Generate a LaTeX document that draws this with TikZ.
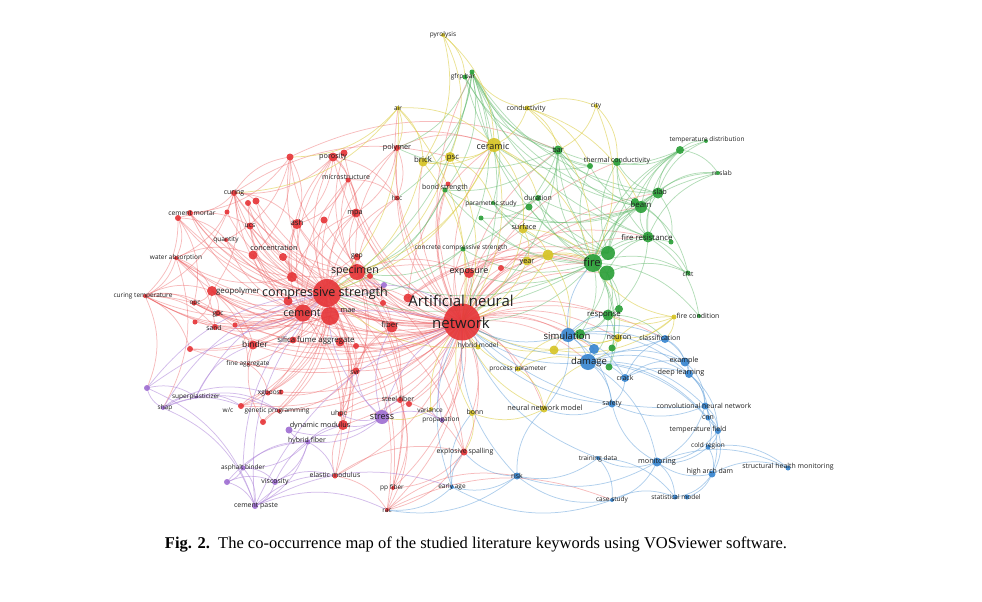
\documentclass[tikz,border=0pt]{standalone}
\usepackage{fontspec}
\usepackage{graphicx}
\newfontfamily\kwfont{Open Sans}
\newfontfamily\capfont{Liberation Serif}
\definecolor{cR}{RGB}{230,55,58}
\definecolor{cG}{RGB}{44,160,58}
\definecolor{cY}{RGB}{214,196,40}
\definecolor{cB}{RGB}{58,135,208}
\definecolor{cP}{RGB}{160,112,210}
\definecolor{txt}{RGB}{30,30,30}
\pgfdeclarelayer{bg}
\pgfdeclarelayer{fg}
\pgfsetlayers{bg,main,fg}
\tikzset{
  dot/.style={circle, inner sep=0pt, draw=none, fill opacity=0.92},
  lbl/.style={inner sep=0pt, text=txt, align=center},
  er/.style={draw=cR!80!white, line width=0.75pt, draw opacity=0.42},
  eg/.style={draw=cG!75!white, line width=0.75pt, draw opacity=0.48},
  ey/.style={draw=cY!90!white, line width=0.75pt, draw opacity=0.55},
  eb/.style={draw=cB!80!white, line width=0.75pt, draw opacity=0.5},
  ep/.style={draw=cP!85!white, line width=0.75pt, draw opacity=0.55}
}
% name, x, y, diameter, colour, fontsize, label x, label y, text
\newcommand{\kw}[9]{%
  \node[dot, fill=#5, minimum size=#4pt] (#1) at (#2,#3) {};
  \pgfmathsetmacro\fsz{#6*1.12}%
  \begin{pgfonlayer}{fg}\node[lbl, font=\kwfont\fontsize{\fsz}{\fsz}\selectfont] (#1-t) at (#7,#8) {#9};\end{pgfonlayer}}
\newcommand{\dt}[5]{\node[dot, fill=#5, minimum size=#4pt] (#1) at (#2,#3) {};}
\newcommand{\edg}[3]{\begin{pgfonlayer}{bg}\foreach \nn in {#3} \draw[#1] (#2.center) to[bend left=24] (\nn.center);\end{pgfonlayer}}
\begin{document}
\begin{tikzpicture}[x=1pt,y=-1pt]
\useasboundingbox (0,0) rectangle (982,602);
% ---------- red cluster ----------
\node[dot, fill=cR, minimum size=37pt] (ann) at (462,322) {};
\begin{pgfonlayer}{fg}\node[lbl, font=\kwfont\fontsize{15}{22}\selectfont] (ann-t) at (461,312) {Artificial neural\\network};\end{pgfonlayer}
\kw{cs}{327}{293}{28}{cR}{11.2}{325}{293}{compressive strength}
\kw{cement}{303}{313}{17}{cR}{9.5}{302}{313}{cement}
\kw{mae}{330}{316}{18}{cR}{6.5}{348}{311}{mae}
\kw{specimen}{357}{272}{16}{cR}{9.5}{355}{271}{specimen}
\dt{r370}{370}{276}{6}{cR}
\kw{gep}{357}{257}{7}{cR}{6}{357}{256}{gep}
\kw{mpa}{356}{213}{9}{cR}{6.5}{355}{213}{mpa}
\kw{ash}{297}{224}{10}{cR}{7}{297}{223}{ash}
\dt{r324}{324}{220}{7}{cR}
\kw{conc}{253}{255}{9}{cR}{6.5}{274}{248}{concentration}
\dt{conc2}{283}{257}{8}{cR}
\kw{quantity}{226}{240}{4}{cR}{5.8}{226}{240}{quantity}
\kw{ucs}{250}{226}{7}{cR}{6}{250}{226}{ucs}
\kw{curing}{234}{193}{6}{cR}{6.2}{234}{193}{curing}
\dt{r248}{248}{203}{6}{cR}
\dt{r256}{256}{201}{7}{cR}
\dt{r227}{227}{212}{5}{cR}
\kw{cm}{190}{213}{6}{cR}{6}{192}{213}{cement mortar}
\dt{cm2}{178}{218}{6}{cR}
\kw{wa}{176}{258}{4}{cR}{5.8}{176}{258}{water absorption}
\kw{ct}{145}{296}{4}{cR}{5.8}{143}{296}{curing temperature}
\kw{geo}{212}{291}{10}{cR}{7}{238}{291}{geopolymer}
\kw{opc}{194}{303}{5}{cR}{5.8}{195}{304}{opc}
\kw{gpc}{218}{313}{6}{cR}{6}{218}{314}{gpc}
\kw{sand}{215}{327}{6}{cR}{6}{214}{328}{sand}
\dt{r195}{195}{322}{5}{cR}
\dt{r235}{235}{325}{5}{cR}
\dt{r292}{292}{277}{10}{cR}
\dt{r288}{288}{301}{9}{cR}
\kw{sfa}{293}{340}{7}{cR}{7}{316}{340}{silica fume aggregate}
\dt{sfa2}{340}{342}{9}{cR}
\dt{r356}{356}{346}{6}{cR}
\kw{binder}{253}{345}{9}{cR}{7.5}{255}{344}{binder}
\dt{r190}{190}{349}{6}{cR}
\kw{fa}{248}{364}{3}{cR}{5.8}{248}{364}{fine aggregate}
\kw{svr}{356}{371}{7}{cR}{6}{355}{373}{svr}
\kw{fiber}{392}{327}{11}{cR}{7}{390}{325}{fiber}
\dt{r408}{408}{298}{9}{cR}
\dt{r383}{383}{303}{6}{cR}
\kw{xgb}{268}{393}{5}{cR}{5.8}{270}{393}{xgboost}
\dt{xgb2}{281}{392}{5}{cR}
\kw{gp}{279}{411}{4}{cR}{5.8}{277}{411}{genetic programming}
\kw{wc}{241}{406}{6}{cR}{5.8}{228}{410}{w/c}
\dt{r263}{263}{422}{6}{cR}
\kw{uhpc}{340}{414}{5}{cR}{6.2}{339}{414}{uhpc}
\kw{dm}{343}{425}{10}{cR}{6.5}{320}{426}{dynamic modulus}
\kw{em}{335}{476}{5}{cR}{6.2}{335}{475}{elastic modulus}
\kw{sf}{400}{400}{6}{cR}{6.2}{398}{399}{steel fiber}
\dt{sf2}{409}{404}{6}{cR}
\kw{es}{464}{452}{7}{cR}{6.2}{465}{452}{explosive spalling}
\kw{ppf}{393}{488}{4}{cR}{5.8}{392}{488}{pp fiber}
\kw{rac}{387}{510}{4}{cR}{5.8}{387}{511}{rac}
\kw{poro}{333}{157}{9}{cR}{6.5}{333}{157}{porosity}
\dt{poro3}{344}{153}{7}{cR}
\dt{poro2}{290}{157}{7}{cR}
\kw{micro}{348}{180}{5}{cR}{6.2}{346}{177}{microstructure}
\kw{polymer}{397}{148}{6}{cR}{6.5}{397}{148}{polymer}
\kw{hsc}{397}{198}{5}{cR}{5.8}{397}{198}{hsc}
\kw{exposure}{469}{273}{10}{cR}{8}{469}{272}{exposure}
\dt{r501}{501}{268}{6}{cR}
\dt{bondred}{448}{184}{5}{cR}
% ---------- green cluster ----------
\dt{gfrp}{472}{72}{5}{cG}
\kw{gfrp2}{465}{77}{5}{cG}{5.8}{463}{77}{gfrp bar}
\kw{bar}{558}{150}{9}{cG}{6.5}{558}{150}{bar}
\dt{tc}{590}{166}{6}{cG}
\kw{tc2}{617}{162}{8}{cG}{6.2}{617}{161}{thermal conductivity}
\kw{tdist}{680}{150}{8}{cG}{5.8}{707}{140}{temperature distribution}
\dt{tdist2}{706}{141}{4}{cG}
\kw{rcslab}{718}{173}{4}{cG}{5.8}{722}{173}{rc slab}
\kw{slab}{658}{193}{11}{cG}{6.5}{660}{192}{slab}
\kw{beam}{641}{207}{12}{cG}{7}{641}{205}{beam}
\dt{beam2}{635}{202}{8}{cG}
\kw{fr}{648}{237}{11}{cG}{7}{647}{238}{fire resistance}
\dt{fr2}{671}{242}{5}{cG}
\kw{fire}{593}{263}{18}{cG}{10}{592}{262}{fire}
\dt{fire2}{608}{253}{14}{cG}
\dt{fire3}{607}{273}{15}{cG}
\kw{cfst}{688}{273}{5}{cG}{5.8}{688}{274}{cfst}
\dt{fc2}{699}{316}{4}{cG}
\kw{response}{608}{315}{11}{cG}{7}{604}{315}{response}
\dt{resp2}{619}{309}{8}{cG}
\dt{simg}{580}{334}{10}{cG}
\dt{g612}{612}{348}{7}{cG}
\dt{g609}{609}{367}{7}{cG}
\kw{bs}{445}{190}{5}{cG}{6.2}{445}{188}{bond strength}
\kw{ps}{493}{203}{4}{cG}{5.8}{491}{204}{parametric study}
\dt{g481}{481}{218}{5}{cG}
\kw{dur}{538}{198}{6}{cG}{6.2}{538}{198}{duration}
\dt{dur2}{529}{207}{7}{cG}
\kw{ccs}{463}{249}{5}{cG}{5.8}{461}{248}{concrete compressive strength}
% ---------- yellow cluster ----------
\kw{pyro}{443}{35}{4}{cY}{5.8}{443}{35}{pyrolysis}
\kw{air}{398}{108}{4}{cY}{5.8}{398}{108}{air}
\kw{cond}{527}{108}{5}{cY}{6.2}{526}{109}{conductivity}
\kw{city}{596}{106}{4}{cY}{5.8}{596}{106}{city}
\kw{brick}{423}{162}{9}{cY}{7}{423}{160}{brick}
\kw{psc}{450}{157}{10}{cY}{7}{453}{158}{psc}
\kw{ceramic}{494}{145}{14}{cY}{8}{493}{146}{ceramic}
\kw{surface}{523}{229}{9}{cY}{6.5}{524}{227}{surface}
\kw{year}{527}{261}{9}{cY}{6.5}{527}{262}{year}
\dt{y2}{548}{255}{11}{cY}
\kw{fc}{674}{317}{5}{cY}{6.2}{698}{316}{fire condition}
\kw{neuron}{618}{338}{8}{cY}{6.5}{619}{338}{neuron}
\dt{y554}{554}{350}{9}{cY}
\kw{hm}{478}{347}{5}{cY}{5.8}{478}{346}{hybrid model}
\kw{pp}{518}{369}{5}{cY}{5.8}{518}{369}{process parameter}
\kw{nnm}{544}{409}{7}{cY}{6.5}{545}{408}{neural network model}
\kw{variance}{431}{409}{4}{cY}{5.8}{430}{410}{variance}
\kw{bonn}{472}{413}{6}{cY}{6.2}{475}{412}{bonn}
% ---------- blue cluster ----------
\kw{sim}{568}{335}{14}{cB}{8.5}{567}{336}{simulation}
\dt{b594}{594}{349}{10}{cB}
\kw{damage}{588}{362}{16}{cB}{8.5}{589}{362}{damage}
\kw{crack}{625}{378}{8}{cB}{6.2}{625}{378}{crack}
\kw{class}{665}{339}{8}{cB}{6.2}{660}{338}{classification}
\kw{example}{685}{362}{9}{cB}{6.5}{684}{361}{example}
\kw{dl}{689}{374}{8}{cB}{6.5}{681}{373}{deep learning}
\kw{safety}{612}{404}{7}{cB}{6.2}{612}{404}{safety}
\kw{cnnet}{705}{406}{7}{cB}{6.2}{704}{406}{convolutional neural network}
\kw{cnn}{708}{418}{5}{cB}{6.2}{708}{418}{cnn}
\kw{tf}{718}{431}{6}{cB}{6.2}{698}{430}{temperature field}
\kw{cold}{708}{447}{5}{cB}{5.8}{708}{446}{cold region}
\kw{shm}{788}{468}{5}{cB}{6.2}{788}{467}{structural health monitoring}
\kw{had}{712}{474}{7}{cB}{6.2}{710}{472}{high arch dam}
\kw{mon}{657}{462}{9}{cB}{6.5}{657}{462}{monitoring}
\kw{train}{598}{458}{4}{cB}{5.8}{598}{459}{training data}
\kw{stat}{675}{497}{5}{cB}{5.8}{676}{497}{statistical model}
\dt{stat2}{687}{497}{5}{cB}
\kw{case}{612}{500}{4}{cB}{5.8}{612}{500}{case study}
\kw{risk}{517}{476}{7}{cB}{6.2}{517}{476}{risk}
\kw{early}{452}{487}{4}{cB}{5.8}{452}{487}{early age}
% ---------- purple cluster ----------
\kw{stress}{382}{417}{14}{cP}{8}{382}{417}{stress}
\dt{p384}{384}{285}{6}{cP}
\kw{prop}{442}{420}{5}{cP}{5.8}{441}{420}{propagation}
\kw{hf}{308}{442}{5}{cP}{6.2}{307}{441}{hybrid fiber}
\dt{p289}{289}{430}{7}{cP}
\kw{shap}{163}{408}{4}{cP}{5.8}{165}{408}{shap}
\dt{p147}{147}{388}{6}{cP}
\kw{superp}{196}{397}{3}{cP}{5.8}{196}{397}{superplasticizer}
\kw{asph}{243}{468}{5}{cP}{5.8}{243}{468}{asphalt binder}
\dt{p227}{227}{482}{6}{cP}
\kw{visc}{275}{482}{6}{cP}{6.2}{275}{482}{viscosity}
\kw{cp}{255}{506}{6}{cP}{6.2}{256}{506}{cement paste}
% ---------- edges ----------
\edg{er}{ann}{cs,cement,mae,specimen,gep,mpa,ash,conc,conc2,ucs,curing,geo,gpc,opc,sand,sfa,sfa2,binder,fiber,svr,xgb2,dm,uhpc,sf2,es,ppf,rac,poro,poro3,micro,polymer,hsc,exposure,r501,r408,r383,r370,bondred,wa,cm,cm2,ct,em,r324,r256,r248,fa,r292,r288,r356,quantity,r190,gp,wc}
\edg{er}{ann}{fire,fire2,fire3,fr,beam,slab,bar,sim,damage,response,ceramic,psc,brick,year,surface,y2,neuron,nnm,pp,hm,bonn,stress,variance,prop,dur,ccs,bs,air,gfrp,tc2,class,b594,simg}
\edg{er}{cs}{cement,mae,specimen,gep,mpa,ash,conc,conc2,quantity,ucs,curing,r248,cm,cm2,wa,ct,geo,opc,gpc,sand,r195,sfa,binder,fa,svr,fiber,xgb,gp,wc,r263,uhpc,dm,em,sf,ppf,rac,poro,poro2,micro,polymer,hsc,exposure,r408,r292,r227,r256,r324,r190,r235,es}
\edg{er}{cement}{specimen,ash,conc,geo,gpc,sand,binder,sfa,mpa,poro,curing,ucs,cm,wa,opc,fiber,dm,r235,r190,xgb,ct,quantity,micro,r248,em,svr}
\edg{er}{specimen}{mpa,poro3,micro,hsc,fiber,svr,sf,uhpc,exposure,polymer,es,gep,r383,ash,conc,curing,ucs,poro2,rac,ppf}
\edg{er}{mae}{svr,dm,sfa2,fiber,binder,geo,xgb,gp,wc,opc,ct}
\edg{er}{r292}{curing,cm,wa,ash,mpa,poro}
\edg{er}{curing}{wa,cm,ash,poro2,r256,ct,geo,psc}
\edg{er}{cm2}{wa,ucs,quantity,ct,opc}
\edg{er}{wa}{ct,geo,conc,sand,shap}
\edg{er}{ct}{opc,geo,gpc,r190,sand,binder,p147}
\edg{er}{poro}{micro,ash,mpa,hsc,curing,ceramic}
\edg{er}{poro2}{ash,cm,quantity,conc,bar}
\edg{er}{micro}{mpa,hsc,ash}
\edg{er}{geo}{gpc,opc,r195,fa,binder}
\edg{er}{fa}{binder,xgb}
\edg{er}{uhpc}{sf,dm,fiber}
\edg{er}{sf}{es,rac,ppf}
\edg{er}{es}{ppf,rac}
\edg{er}{svr}{xgb,gp,fiber}
\edg{er}{em}{dm,rac,es}
\edg{er}{polymer}{hsc,mpa,ceramic}
\edg{er}{wc}{xgb,gp}
\edg{er}{r263}{gp,binder}
\edg{er}{r408}{fire,fire2,ceramic,year}
\edg{er}{exposure}{fire,fr,year,fire3}
\edg{er}{rac}{case,risk}
% green
\edg{eg}{fire}{fire2,fire3,fr,beam,slab,tc,tdist,rcslab,bar,gfrp,cfst,response,dur,ps,bs,ccs,simg,g612,g609,fc2,g481,ann,exposure,cs,specimen}
\edg{eg}{fire2}{beam2,slab,tc2,bar,fr2,dur2,tdist,gfrp2,dur,ps}
\edg{eg}{fire3}{response,resp2,fr,cfst,sim,g609}
\edg{eg}{fr}{beam,slab,tdist,tc2,bar,rcslab,cfst,response,fc2,gfrp}
\edg{eg}{beam}{slab,tdist,tc,bar,rcslab,gfrp2,dur,bs,ps}
\edg{eg}{beam2}{tdist2,tc2,fr2,cfst,gfrp}
\edg{eg}{slab}{tdist,tdist2,rcslab,tc2,bar,gfrp,fr2}
\edg{eg}{tdist}{tc2,tdist2,rcslab,bar}
\edg{eg}{tc}{bar,gfrp,ceramic}
\edg{eg}{bar}{gfrp,gfrp2,dur,ccs,bs,polymer,ann}
\edg{eg}{gfrp}{bs,ps,ccs,ann,polymer,hsc,brick,cs}
\edg{eg}{response}{simg,g612,sim,damage,class}
\edg{eg}{ccs}{ann,cs,specimen}
\edg{eg}{dur}{ps,g481}
\edg{eg}{bs}{cs,specimen}
% yellow
\edg{ey}{pyro}{gfrp2,psc,ceramic,brick}
\edg{ey}{air}{brick,polymer,cs,ann,ceramic,poro2,curing}
\edg{ey}{cond}{ceramic,bar,fire,city,gfrp,beam,tc}
\edg{ey}{city}{fire,bar,tc2}
\edg{ey}{ceramic}{ann,psc,brick,fire,dur,surface,cs,specimen}
\edg{ey}{psc}{brick,ann,cs,ps}
\edg{ey}{brick}{ann,cs}
\edg{ey}{surface}{ann,year,fire,y2}
\edg{ey}{year}{ann,fire,sim,y2}
\edg{ey}{y2}{fire,ann,sim}
\edg{ey}{neuron}{fc,sim,damage,ann}
\edg{ey}{fc}{response,fire,class,neuron,y554}
\edg{ey}{hm}{ann,cs}
\edg{ey}{pp}{ann,nnm,sim,damage}
\edg{ey}{nnm}{ann,damage,bonn}
\edg{ey}{variance}{ann,stress}
\edg{ey}{bonn}{ann,es}
\edg{ey}{y554}{ann,sim}
% blue
\edg{eb}{sim}{damage,b594,crack,class,example,dl,safety,ann,response,fire,nnm}
\edg{eb}{damage}{crack,example,dl,safety,cnnet,b594,ann,mon,cnn,tf}
\edg{eb}{crack}{example,dl,safety,class}
\edg{eb}{class}{example,dl,ann}
\edg{eb}{example}{dl,cnnet}
\edg{eb}{dl}{cnnet,cnn,tf}
\edg{eb}{cnnet}{cnn,tf,had,mon,safety,ann}
\edg{eb}{cnn}{tf,cold}
\edg{eb}{tf}{cold,had,mon}
\edg{eb}{cold}{had,mon,shm}
\edg{eb}{had}{shm,mon,stat,stat2}
\edg{eb}{mon}{stat,train,case,risk,safety,shm}
\edg{eb}{train}{risk,case,stat,ann}
\edg{eb}{case}{stat,risk,early}
\edg{eb}{risk}{early,ann,nnm,es,rac}
\edg{eb}{early}{ann,bonn,es,rac}
\edg{eb}{safety}{ann,nnm}
% purple
\edg{ep}{stress}{ann,cs,hf,prop,dm,p289,uhpc,sf,svr,fiber}
\edg{ep}{prop}{ann,variance}
\edg{ep}{hf}{dm,visc,asph,cp,p289,em}
\edg{ep}{shap}{p147,superp,cp,cs,xgb,gp,wc}
\edg{ep}{p147}{cs,superp,cp,ann}
\edg{ep}{superp}{cs,gp,wc,binder}
\edg{ep}{asph}{visc,cp,p227,hf,cs}
\edg{ep}{p227}{cp,visc,hf}
\edg{ep}{visc}{cp,em,dm}
\edg{ep}{cp}{ann,cs,em,rac,early}
\edg{ep}{p384}{cs,ann,specimen}
% ---------- caption ----------
\node[inner sep=0pt] (caption) at (476,545) {\resizebox{622pt}{!}{\capfont\textbf{Fig. 2.}\enspace The co-occurrence map of the studied literature keywords using VOSviewer software.}};
\end{tikzpicture}
\end{document}
